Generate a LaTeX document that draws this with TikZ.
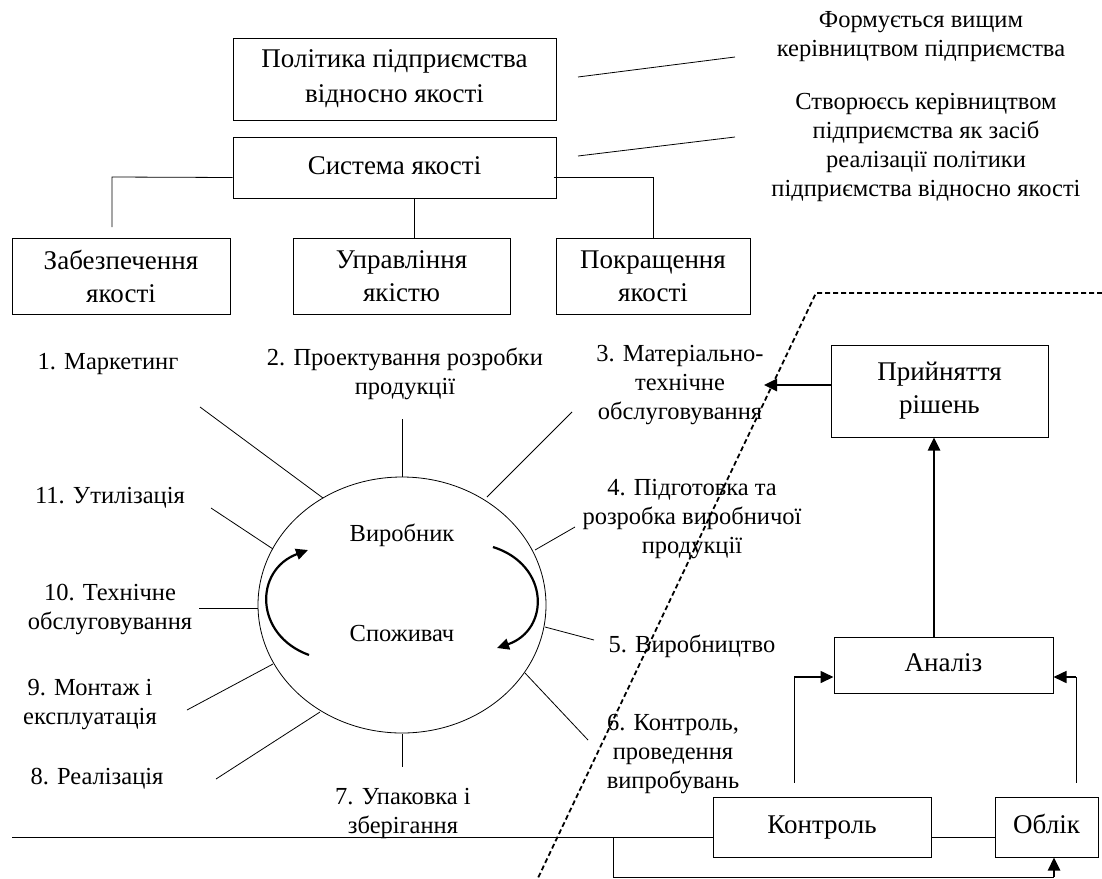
\documentclass[tikz,border=0pt]{standalone}
\usepackage{fontspec}
\setmainfont{Liberation Serif}
\usetikzlibrary{shapes.geometric,arrows.meta}
\begin{document}
\begin{tikzpicture}[x=1pt,y=-1pt,
  every node/.style={inner sep=0pt},
  box/.style={draw, line width=1pt, align=center, font=\fontsize{27}{33}\selectfont},
  onebox/.style={box, text height=19pt, text depth=6pt},
  lbl/.style={align=center, font=\fontsize{24.5}{29}\selectfont},
  ln/.style={line width=0.8pt},
  tarr/.style={line width=2.6pt, -{Triangle[length=13pt,width=12pt]}},
  narr/.style={line width=1.6pt, -{Triangle[length=13pt,width=12pt]}},
  carr/.style={line width=2.2pt, -{Triangle[length=12pt,width=11pt]}},
  dline/.style={line width=1.8pt, dash pattern=on 5pt off 3pt}]
\useasboundingbox (0,0) rectangle (1102,878);

% top hierarchy
\node[box, minimum width=323pt, minimum height=82pt, font=\fontsize{27}{35}\selectfont] (pol) at (394.5,79) {Політика підприємства\\відносно якості};
\node[onebox, minimum width=323pt, minimum height=61pt] (sys) at (394.5,167.5) {Система якості};
\node[box, minimum width=218pt, minimum height=76pt] (zab) at (121,276) {Забезпечення\\якості};
\node[box, minimum width=217pt, minimum height=76pt] (upr) at (401.5,276) {Управління\\якістю};
\node[box, minimum width=194pt, minimum height=76pt] (pok) at (653,276) {Покращення\\якості};

\draw[ln] ([yshift=-10pt]sys.west) -- (112,177) -- (112,227);
\draw[ln] ([xshift=19.5pt]sys.south) -- ([xshift=19.5pt]sys.south |- upr.north);
\draw[ln] ([yshift=-10pt,xshift=-3pt]sys.east) -| (pok.north);

% annotations
\node[lbl] (ann1) at (921,37) {Формується вищим\\керівництвом підприємства};
\node[lbl] (ann2) at (926,147) {Створюєсь керівництвом\\підприємства як засіб\\реалізації політики\\підприємства відносно якості};
\coordinate (a1s) at (578,77);
\coordinate (a1e) at (735,57);
\coordinate (a2s) at (578,156);
\coordinate (a2e) at (735,137);
\draw[ln] (a1s) -- (a1e);
\draw[ln] (a2s) -- (a2e);

% circle
\node[ellipse, draw, line width=0.8pt, minimum width=288pt, minimum height=256pt] (ell) at (402,605) {};
\node[lbl] (vyr) at (402,535) {Виробник};
\node[lbl] (spo) at (402,633) {Споживач};
\draw[carr] (493,547) .. controls (550,565) and (550,630) .. (497,648);
\draw[carr] (309,655) .. controls (254,635) and (254,570) .. (308,550);

% spokes
\draw[ln] (200,407) -- (323,498);
\draw[ln] (402,419) -- (402,477);
\draw[ln] (572,412) -- (487,497);
\draw[ln] (575,527) -- (535,550);
\draw[ln] (594,640) -- (545,627);
\draw[ln] (588,740) -- (525,673);
\draw[ln] (402,734) -- (402,767);
\draw[ln] (216,779) -- (320,712);
\draw[ln] (187,710) -- (273,664);
\draw[ln] (199,608) -- (258,608);
\draw[ln] (211,508) -- (273,549);

% labels
\node[lbl] (l1) at (108,364) {1. Маркетинг};
\node[lbl] (l2) at (405,374) {2. Проектування розробки\\продукції};
\node[lbl] (l3) at (680,385) {3. Матеріально-\\технічне\\обслуговування};
\node[lbl] (l4) at (692,519) {4. Підготовка та\\розробка виробничої\\продукції};
\node[lbl] (l5) at (692,646) {5. Виробництво};
\node[lbl] (l6) at (673,754) {6. Контроль,\\проведення\\випробувань};
\node[lbl] (l7) at (403,813) {7. Упаковка і\\зберігання};
\node[lbl] (l8) at (97,779) {8. Реалізація};
\node[lbl] (l9) at (90,705) {9. Монтаж і\\експлуатація};
\node[lbl] (l10) at (110,609) {10. Технічне\\обслуговування};
\node[lbl] (l11) at (110,498) {11. Утилізація};

% right block
\node[box, minimum width=217pt, minimum height=92pt] (pr) at (939.5,391) {Прийняття\\рішень};
\node[onebox, minimum width=219pt, minimum height=56pt] (an) at (943.5,665) {Аналіз};
\node[onebox, minimum width=218pt, minimum height=60pt] (kon) at (822,827) {Контроль};
\node[onebox, minimum width=103pt, minimum height=60pt] (obl) at (1046.5,827) {Облік};

\coordinate (prtip) at (764,385);
\draw[tarr] ([yshift=6pt]pr.west) -- (prtip);
\draw[tarr] ([xshift=-9.5pt]an.north) -- ([xshift=-9.5pt]an.north |- pr.south);

\coordinate (kc) at (794,677);
\coordinate (oc) at (1076,677);
\draw[ln, line width=1pt] ([xshift=-28pt,yshift=14pt]kon.north) -- (kc);
\draw[narr] (kc) -- (kc -| an.west);
\draw[ln, line width=1pt] ([xshift=29.5pt,yshift=14pt]obl.north) -- (oc);
\draw[narr] (oc) -- (oc -| an.east);

\draw[ln, line width=1pt] ([yshift=-10pt]kon.east) -- ([yshift=-10pt]obl.west);
\coordinate (hl) at (12,837);
\draw[ln, line width=1pt] (hl) -- ([yshift=-10pt]kon.west);
\coordinate (b1) at (613,837);
\coordinate (b2) at (613,877);
\coordinate (b3) at (1054,877);
\draw[ln, line width=1pt] (b1) -- (b2) -- (b3);
\draw[tarr] (b3) -- (b3 |- obl.south);

% dashed boundary
\coordinate (d1) at (1102,293);
\coordinate (d2) at (816,293);
\coordinate (d3) at (538,878);
\draw[dline] (d1) -- (d2) -- (d3);
\end{tikzpicture}
\end{document}
